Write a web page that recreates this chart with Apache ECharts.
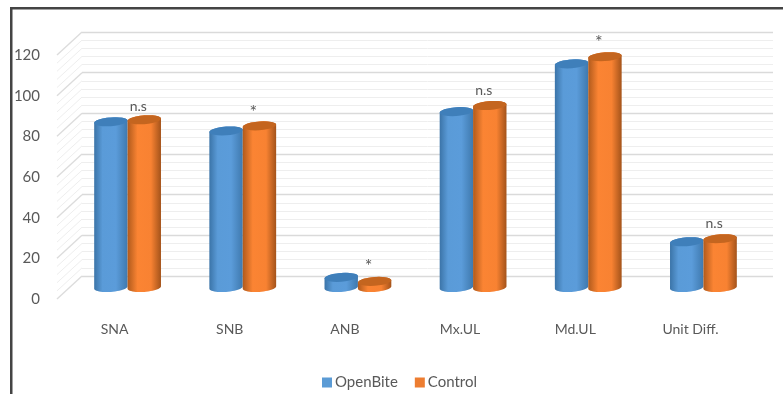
<!DOCTYPE html>
<html>
<head>
<meta charset="utf-8">
<style>
  html, body { margin: 0; padding: 0; background: #fff; }
  #chart { width: 783px; height: 394px; }
</style>
<script src="https://cdn.jsdelivr.net/npm/echarts@6/dist/echarts.min.js"></script>
</head>
<body>
<div id="chart"></div>
<script>
// Cephalometric measurements, open bite group against controls
const categories = ['SNA', 'SNB', 'ANB', 'Mx.UL', 'Md.UL', 'Unit Diff.'];
const openBite = [81.5, 77, 5, 86.5, 110, 22.5];
const control = [82.5, 79.5, 3, 89.5, 113.5, 24];
const significance = ['n.s', '*', '*', 'n.s', '*', 'n.s'];
const wallTicks = [0, 4, 8, 12, 16, 20, 24, 28, 32, 36, 40, 44, 48, 52, 56, 60, 64, 68, 72, 76, 80, 84, 88, 92, 96, 100, 104, 108, 112, 116, 120];

// Depth of the pseudo-3D floor, and cylinder proportions
const DEPTH_X = 25;
const DEPTH_Y = 23;
const ELLIPSE_RY = 4.4;
const ELLIPSE_TILT = 0.07;
const BAR_BAND = 0.29;
const NOTE_LIFT = [13, 14, 15, 15, 15, 15];
const TEXT = '#595959';
const FONT = 'Lato, sans-serif';

const skins = {
  blue: {
    key: '#5b9bd5', cap: '#3f7fba',
    body: [[0, '#3b74a8'], [0.25, '#5a9bd8'], [0.65, '#5b9cda'], [1, '#3f79ae']]
  },
  orange: {
    key: '#ed7d31', cap: '#c4651f',
    body: [[0, '#b05a1c'], [0.3, '#fb8433'], [0.7, '#f88232'], [1, '#a4531a']]
  }
};

function arc(cx, cy, rx, ry, from, to) {
  const pts = [];
  const n = 24;
  for (let i = 0; i <= n; i++) {
    const a = from + (to - from) * i / n;
    const x = cx + rx * Math.cos(a);
    pts.push([x, cy + ry * Math.sin(a) - (x - cx) * ELLIPSE_TILT]);
  }
  return pts;
}

function cylinder(skin, side, notes) {
  return function (params, api) {
    const idx = api.value(0);
    const top = api.coord([idx, api.value(1)]);
    const base = api.coord([idx, 0]);
    const band = api.size([1, 0])[0];
    const rx = band * BAR_BAND / 2;
    const cx = top[0] + side * rx;
    const wall = arc(cx, base[1], rx, ELLIPSE_RY, 0, Math.PI)
      .concat(arc(cx, top[1], rx, ELLIPSE_RY, Math.PI, 2 * Math.PI));
    const children = [
      {
        type: 'polygon',
        shape: { points: wall },
        style: { fill: new echarts.graphic.LinearGradient(0, 0, 1, 0, skin.body.map(s => ({ offset: s[0], color: s[1] }))) }
      },
      {
        type: 'polygon',
        shape: { points: arc(cx, top[1], rx, ELLIPSE_RY, 0, 2 * Math.PI) },
        style: { fill: skin.cap }
      }
    ];
    if (notes) {
      children.push({
        type: 'text',
        style: {
          x: cx - 6,
          y: top[1] - NOTE_LIFT[idx],
          text: notes[idx],
          align: 'center',
          verticalAlign: 'middle',
          fill: TEXT,
          font: (notes[idx] === '*' ? '18px ' : '14px ') + FONT
        }
      });
    }
    return { type: 'group', children: children };
  };
}

// Slanted side-wall rules joining the front plane to the back wall
function sideWall(params, api) {
  const v = api.value(0);
  const y = api.coord([0, v])[1];
  const x = params.coordSys.x;
  return {
    type: 'line',
    shape: { x1: x, y1: y, x2: x - DEPTH_X, y2: y + DEPTH_Y },
    style: { stroke: v % 20 === 0 ? '#dcdcdc' : '#eeeeee', lineWidth: v % 20 === 0 ? 1.4 : 1 }
  };
}

const hiddenX = gridIndex => ({
  type: 'category', gridIndex, data: categories, show: false
});
const hiddenY = gridIndex => ({
  type: 'value', gridIndex, min: 0, max: 120, interval: 20, show: false, splitLine: { show: false }
});

const chart = echarts.init(document.getElementById('chart'), null, { renderer: 'canvas' });
chart.setOption({
  animation: false,
  backgroundColor: '#fff',
  textStyle: { fontFamily: FONT },
  grid: [
    { left: 82, top: 32, width: 691, height: 244 },   // back wall
    { left: 57, top: 55, width: 691, height: 244 },   // front plane, carries the labels
    { left: 70, top: 43.5, width: 691, height: 244 }  // plane the cylinders stand on
  ],
  xAxis: [
    hiddenX(0),
    {
      type: 'category', gridIndex: 1, data: categories,
      axisLine: { show: false }, axisTick: { show: false },
      axisLabel: { color: TEXT, fontSize: 14, margin: 23, fontFamily: FONT }
    },
    hiddenX(2)
  ],
  yAxis: [
    {
      type: 'value', gridIndex: 0, min: 0, max: 120, interval: 20,
      axisLine: { show: false }, axisTick: { show: false }, axisLabel: { show: false },
      splitLine: { show: true, lineStyle: { color: '#dadada', width: 1.4 } },
      minorTick: { show: false, splitNumber: 5 },
      minorSplitLine: { show: true, lineStyle: { color: '#eeeeee', width: 1 } }
    },
    {
      type: 'value', gridIndex: 1, min: 0, max: 120, interval: 20,
      axisLine: { show: false }, axisTick: { show: false },
      splitLine: { show: false },
      axisLabel: { color: TEXT, fontSize: 15, margin: 17, fontFamily: FONT, padding: [7, 0, 0, 0] }
    },
    hiddenY(2)
  ],
  legend: {
    data: ['OpenBite', 'Control'],
    left: 317, top: 370,
    icon: 'rect', itemWidth: 10, itemHeight: 10, itemGap: 17,
    textStyle: { color: TEXT, fontSize: 15, fontFamily: FONT, padding: [0, 0, 0, -2] }
  },
  series: [
    {
      type: 'custom', name: 'walls', silent: true, clip: false,
      xAxisIndex: 0, yAxisIndex: 0,
      encode: { y: 0 },
      data: wallTicks.map(v => [v]),
      renderItem: sideWall,
      z: 1
    },
    {
      type: 'custom', name: 'OpenBite', clip: false,
      xAxisIndex: 2, yAxisIndex: 2,
      itemStyle: { color: skins.blue.key },
      encode: { x: 0, y: 1 },
      data: openBite.map((v, i) => [i, v]),
      renderItem: cylinder(skins.blue, -1),
      z: 3
    },
    {
      type: 'custom', name: 'Control', clip: false,
      xAxisIndex: 2, yAxisIndex: 2,
      itemStyle: { color: skins.orange.key },
      encode: { x: 0, y: 1 },
      data: control.map((v, i) => [i, v]),
      renderItem: cylinder(skins.orange, 1, significance),
      z: 4
    }
  ],
  graphic: [
    { type: 'rect', silent: true, z: 10, shape: { x: 10, y: 7, width: 773, height: 2.5 }, style: { fill: '#444' } },
    { type: 'rect', silent: true, z: 10, shape: { x: 10, y: 7, width: 2.5, height: 387 }, style: { fill: '#444' } }
  ]
});
</script>
</body>
</html>
